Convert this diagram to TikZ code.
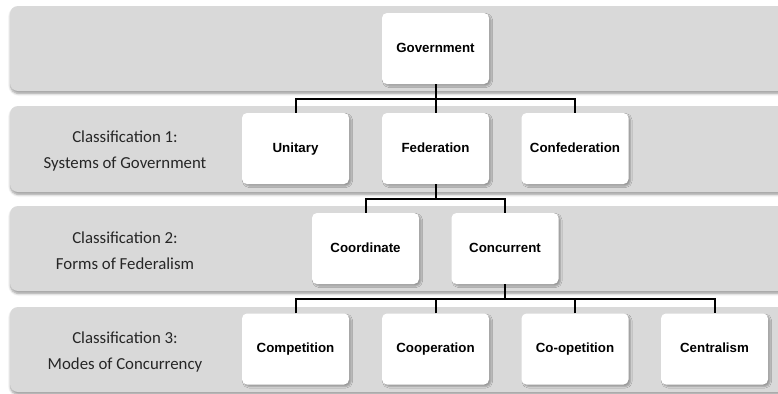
\documentclass[tikz,border=0pt]{standalone}
\usepackage{fontspec}
\setmainfont{Carlito}
\newfontfamily\boxfont{Liberation Sans}
\usetikzlibrary{shadows.blur}
\definecolor{bandgray}{RGB}{217,217,217}
\tikzset{
  band/.style={fill=bandgray, draw=none, rounded corners=8bp,
    blur shadow={shadow xshift=0.5bp, shadow yshift=-2.5bp, shadow blur steps=6, shadow opacity=40, shadow blur radius=2.5bp}},
  orgbox/.style={fill=white, draw=none, rounded corners=5bp, minimum width=107bp, minimum height=71bp,
    inner sep=0pt, text height=9.5bp, text depth=2.5bp,
    font=\boxfont\bfseries\fontsize{13.3bp}{16bp}\selectfont,
    blur shadow={shadow xshift=2bp, shadow yshift=-2bp, shadow blur steps=5, shadow opacity=30, shadow blur radius=1.5bp}},
  rowlabel/.style={align=center, font=\fontsize{16.8bp}{26bp}\selectfont, text=black!85},
  link/.style={draw=black, line width=2bp}
}
\begin{document}
\begin{tikzpicture}[x=1bp,y=-1bp]
\useasboundingbox (0,0) rectangle (778,393);
% bands
\path[band] (10,6) rectangle (800,91);
\path[band] (10,106) rectangle (800,192);
\path[band] (10,206) rectangle (800,291);
\path[band] (10,307) rectangle (800,392);
% row labels
\node[rowlabel] (l1) at (125,151) {Classification 1:\\Systems of Government};
\node[rowlabel] (l2) at (125,251) {Classification 2:\\Forms of Federalism};
\node[rowlabel] (l3) at (125,352) {Classification 3:\\Modes of Concurrency};
% boxes
\node[orgbox] (gov) at (435.5,48.5) {Government};
\node[orgbox] (uni) at (295.5,148.5) {Unitary};
\node[orgbox] (fed) at (435.5,148.5) {Federation};
\node[orgbox] (con) at (575,148.5) {Confederation};
\node[orgbox] (coo) at (365.5,248.5) {Coordinate};
\node[orgbox] (cur) at (505,248.5) {Concurrent};
\node[orgbox] (cmp) at (295.5,349) {Competition};
\node[orgbox] (cop) at (435.5,349) {Cooperation};
\node[orgbox] (cot) at (575,349) {Co-opetition};
\node[orgbox] (cen) at (714.5,349) {Centralism};
% connectors
\coordinate (b1) at (0,98.5);
\coordinate (b2) at (0,199);
\coordinate (b3) at (0,298.5);
\draw[link] (gov.south) -- (gov.south |- b1);
\draw[link] (uni.north) -- (uni.north |- b1) -- (con.north |- b1) -- (con.north);
\draw[link] (fed.north) -- (fed.north |- b1);
\draw[link] (fed.south) -- (fed.south |- b2);
\draw[link] (coo.north) -- (coo.north |- b2) -- (cur.north |- b2) -- (cur.north);
\draw[link] (cur.south) -- (cur.south |- b3);
\draw[link] (cmp.north) -- (cmp.north |- b3) -- (cen.north |- b3) -- (cen.north);
\draw[link] (cop.north) -- (cop.north |- b3);
\draw[link] (cot.north) -- (cot.north |- b3);
\end{tikzpicture}
\end{document}
